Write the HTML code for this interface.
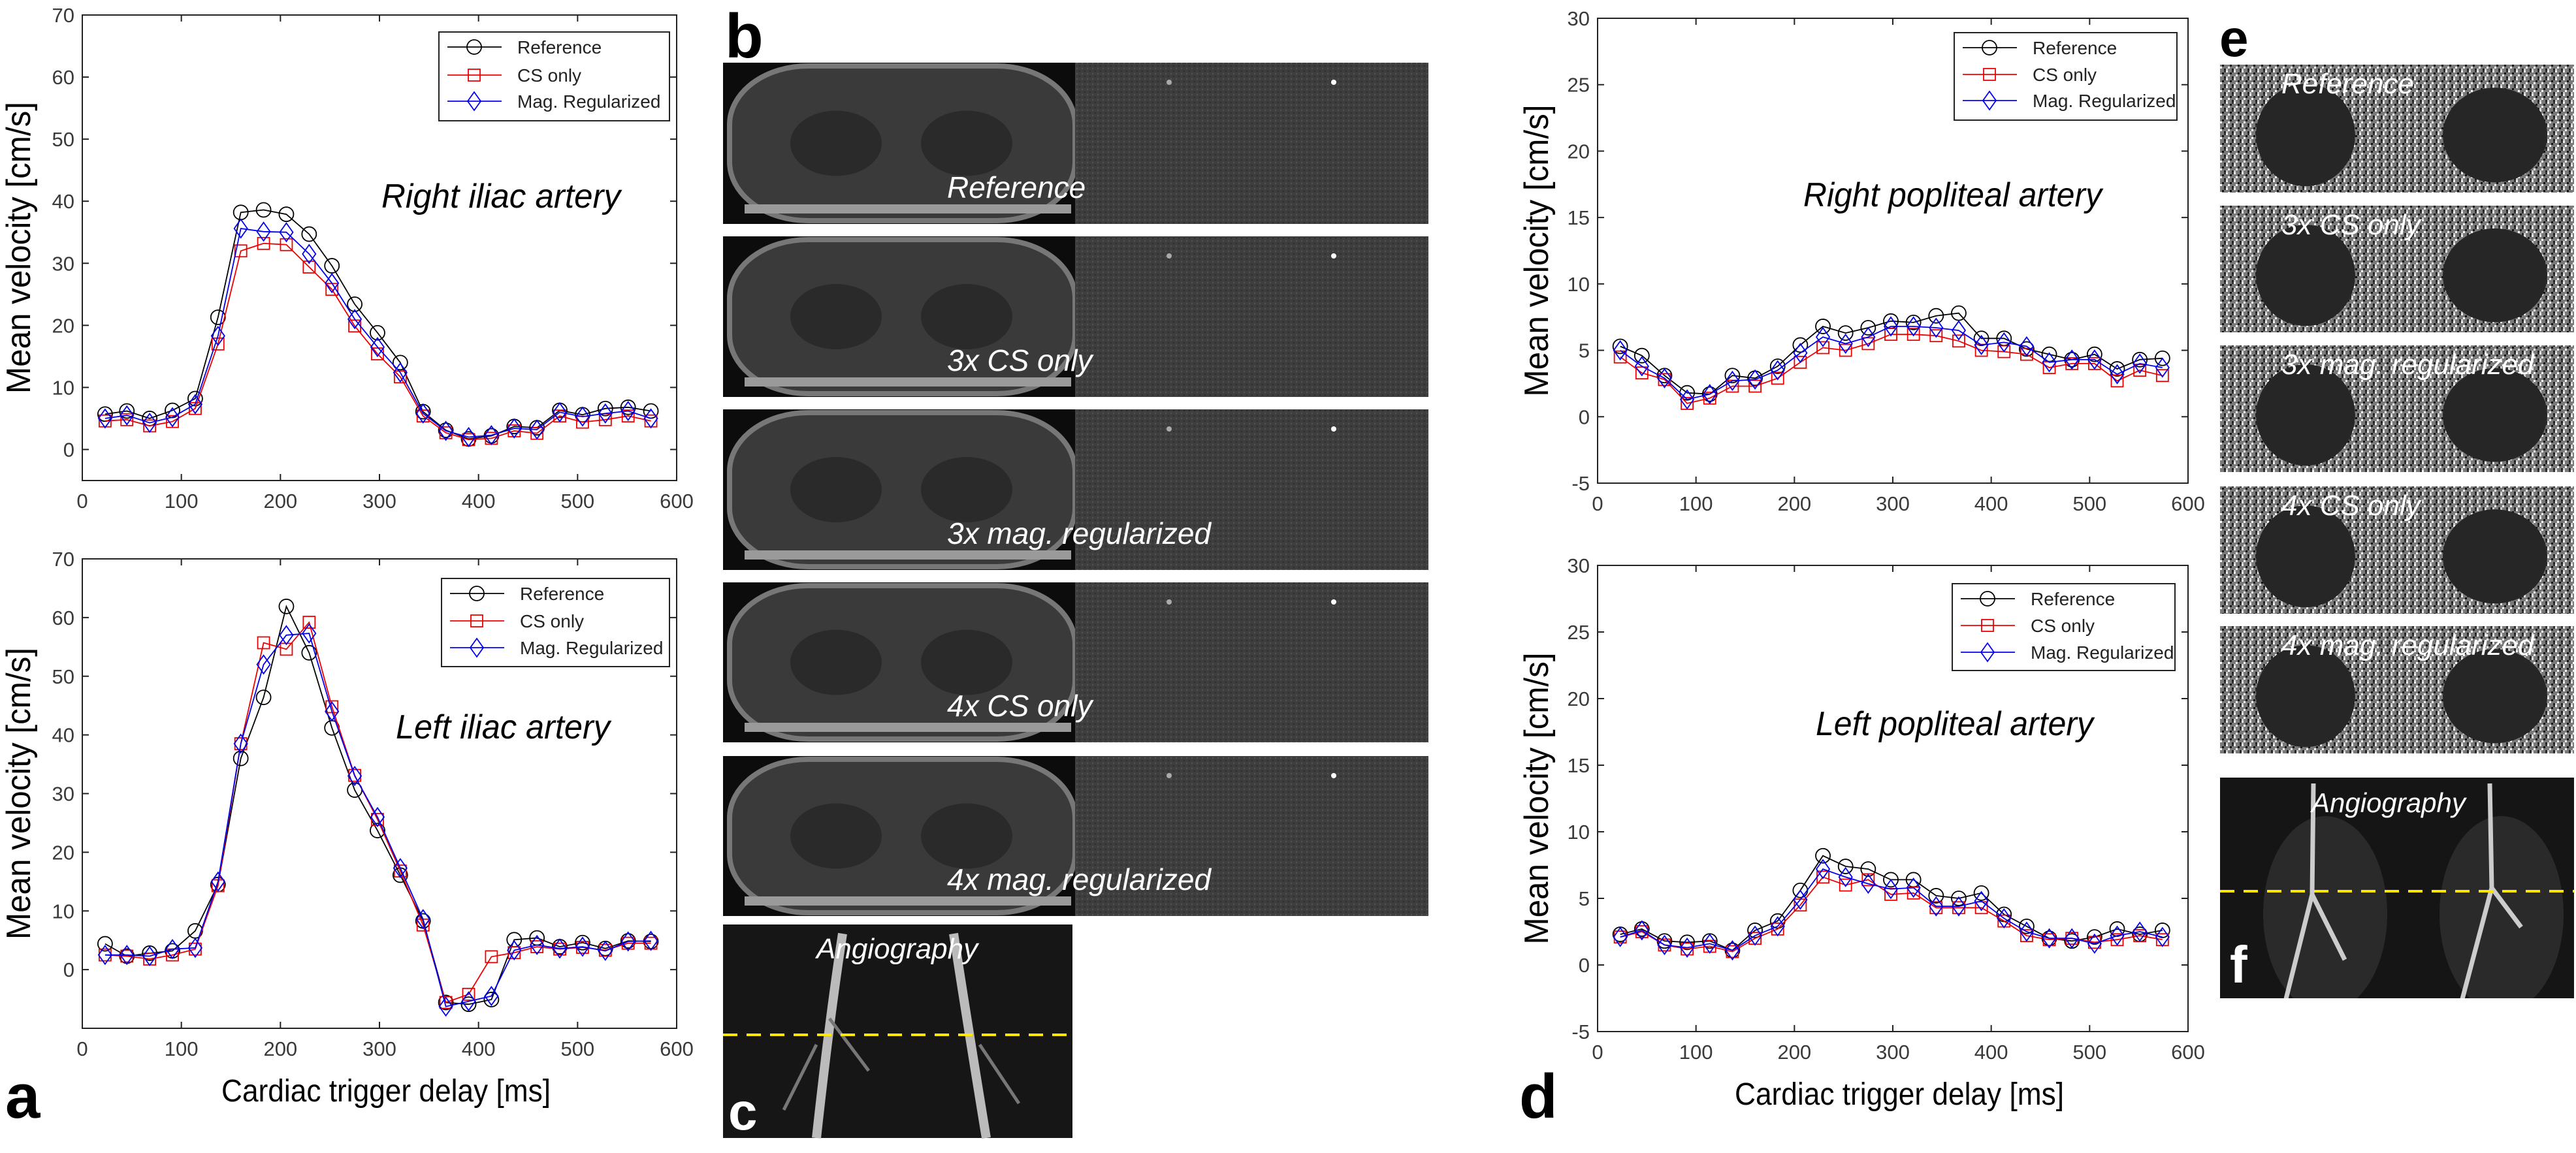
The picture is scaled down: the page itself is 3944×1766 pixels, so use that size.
<!DOCTYPE html>
<html><head><meta charset="utf-8"><style>
html,body{margin:0;padding:0;background:#fff;}
svg{display:block;font-family:"Liberation Sans",sans-serif;}
</style></head><body>
<svg id="fig" width="3944" height="1766" viewBox="0 0 3944 1766" xmlns="http://www.w3.org/2000/svg">
<defs>
<pattern id="noise" width="12" height="12" patternUnits="userSpaceOnUse">
<rect width="12" height="12" fill="#7a7a7a"/>
<rect x="0" y="0" width="3" height="3" fill="#f0f0f0"/><rect x="6" y="3" width="3" height="3" fill="#111"/>
<rect x="3" y="6" width="3" height="3" fill="#fff"/><rect x="9" y="9" width="3" height="3" fill="#222"/>
<rect x="9" y="0" width="3" height="3" fill="#333"/><rect x="0" y="9" width="3" height="3" fill="#ccc"/>
</pattern>
<pattern id="fine" width="8" height="8" patternUnits="userSpaceOnUse">
<rect width="8" height="8" fill="#3e3e3e"/><rect x="0" y="0" width="2" height="2" fill="#555"/><rect x="4" y="4" width="2" height="2" fill="#2e2e2e"/>
</pattern>
<clipPath id="fclip"><rect x="3399" y="1191" width="542" height="338"/></clipPath>
</defs>
<g id="charts"></g>
<g id="images"></g>
</svg>
<script>
const times = [23,45,68,91,114,137,160,183,206,229,252,275,298,321,344,367,390,413,436,459,482,505,528,551,574];
const seriesNames = ["Reference","CS only","Mag. Regularized"];
const xTicks = [0,100,200,300,400,500,600];
const yTicksIliac = [0,10,20,30,40,50,60,70];
const yTicksPop = [-5,0,5,10,15,20,25,30];
const rightIliacRef = [5.7,6.2,5.0,6.3,8.2,21.3,38.2,38.6,37.9,34.7,29.6,23.4,18.8,14.0,6.1,3.1,1.7,2.2,3.7,3.5,6.3,5.6,6.6,6.8,6.2];
const rightIliacCS = [4.6,4.8,3.8,4.5,6.6,17.0,32.0,33.2,33.0,29.4,25.8,19.9,15.4,11.7,5.4,2.7,1.6,1.8,3.0,2.6,5.4,4.4,4.8,5.4,4.6];
const rightIliacMag = [5.0,5.5,4.3,5.2,7.3,18.3,35.6,35.1,35.0,31.5,26.8,21.0,16.5,12.4,5.8,3.0,2.0,2.3,3.4,3.2,6.0,5.3,5.8,6.2,5.0];
const leftIliacRef = [4.4,2.3,2.8,3.2,6.6,14.5,36.0,46.4,61.9,54.0,41.2,30.6,23.7,16.1,8.3,-5.6,-5.9,-5.1,5.1,5.4,3.9,4.6,3.6,4.9,4.8];
const leftIliacCS = [2.5,2.3,1.8,2.5,3.5,14.3,38.5,55.7,54.6,59.2,44.8,33.1,25.6,16.8,7.6,-5.6,-4.2,2.2,2.9,3.9,3.5,3.8,3.3,4.5,4.5];
const leftIliacMag = [2.5,2.5,2.3,3.5,3.7,15.0,38.5,52.0,57.0,57.3,44.0,33.0,26.0,17.3,8.6,-6.3,-5.4,-4.5,3.3,4.2,3.6,3.9,3.2,4.8,4.9];
const rightPopRef = [5.3,4.6,3.1,1.8,1.7,3.1,2.9,3.8,5.4,6.8,6.3,6.7,7.2,7.1,7.6,7.8,5.9,5.9,5.1,4.7,4.3,4.7,3.6,4.3,4.4];
const rightPopCS = [4.5,3.3,2.8,1.0,1.4,2.3,2.3,2.9,4.1,5.2,5.0,5.5,6.2,6.2,6.1,5.7,5.0,4.9,4.7,3.7,4.0,4.0,2.7,3.5,3.1];
const rightPopMag = [5.0,3.8,2.9,1.3,1.7,2.7,2.8,3.5,4.8,6.0,5.5,6.0,6.8,6.8,6.7,6.5,5.4,5.6,5.3,4.1,4.3,4.3,3.2,4.0,3.7];
const leftPopRef = [2.3,2.7,1.8,1.7,1.8,1.1,2.6,3.3,5.6,8.2,7.4,7.2,6.4,6.4,5.2,5.0,5.4,3.8,2.9,2.0,1.8,2.1,2.7,2.3,2.6];
const leftPopCS = [2.1,2.5,1.5,1.2,1.4,1.0,2.0,2.7,4.5,6.6,6.0,6.4,5.3,5.4,4.3,4.3,4.3,3.3,2.2,1.9,2.0,1.7,1.9,2.2,1.9];
const leftPopMag = [2.1,2.6,1.5,1.3,1.6,1.1,2.2,2.9,4.9,7.2,6.6,6.1,5.7,5.8,4.4,4.4,4.8,3.5,2.5,2.0,2.0,1.6,2.2,2.5,2.1];

const NS="http://www.w3.org/2000/svg";
function mk(tag, attrs, parent){const e=document.createElementNS(NS,tag);for(const k in attrs)e.setAttribute(k,attrs[k]);if(parent)parent.appendChild(e);return e;}
const colors=["#000","#e00","#00e"];

function drawChart(cfg){
  const root=document.getElementById('charts');
  const g=mk('g',{},root);
  
  
  const X=v=>cfg.l+(v-0)/(600-0)*(cfg.r-cfg.l);
  const Y=v=>cfg.b-(v-cfg.ymin)/(cfg.ymax-cfg.ymin)*(cfg.b-cfg.t);
  const frame=mk('rect',{x:cfg.l,y:cfg.t,width:cfg.r-cfg.l,height:cfg.b-cfg.t,fill:'none',stroke:'#222','stroke-width':2},g);
  
  
  xTicks.forEach(v=>{
    const x=X(v);
    mk('line',{x1:x,x2:x,y1:cfg.b,y2:cfg.b-10,stroke:'#222','stroke-width':2},g);
    mk('line',{x1:x,x2:x,y1:cfg.t,y2:cfg.t+10,stroke:'#222','stroke-width':2},g);
    const t=mk('text',{x:x,y:cfg.b+42,'text-anchor':'middle','font-size':31,fill:'#3a3a3a'},g);
    t.textContent=v;
    
    
  });
  cfg.yt.forEach(v=>{
    const y=Y(v);
    mk('line',{x1:cfg.l,x2:cfg.l+10,y1:y,y2:y,stroke:'#222','stroke-width':2},g);
    mk('line',{x1:cfg.r,x2:cfg.r-10,y1:y,y2:y,stroke:'#222','stroke-width':2},g);
    const t=mk('text',{x:cfg.l-12,y:y+11,'text-anchor':'end','font-size':31,fill:'#3a3a3a'},g);
    t.textContent=v;
    
    
  });
  const yt=mk('text',{x:0,y:0,'text-anchor':'middle','font-size':52,fill:'#000',transform:`translate(${cfg.ytx},${(cfg.t+cfg.b)/2}) rotate(-90)`,textLength:447,lengthAdjust:'spacingAndGlyphs'},g);
  yt.textContent='Mean velocity [cm/s]';
  
  
  if(cfg.xlabel){
    const xl=mk('text',{x:(cfg.l+cfg.r)/2+10,y:cfg.b+112,'text-anchor':'middle','font-size':48,fill:'#000',textLength:504,lengthAdjust:'spacingAndGlyphs'},g);
    xl.textContent='Cardiac trigger delay [ms]';
    
    
  }
  const an=mk('text',{x:cfg.ax,y:cfg.ay,'font-size':52,'font-style':'italic',fill:'#000',textLength:cfg.aw,lengthAdjust:'spacingAndGlyphs'},g);
  an.textContent=cfg.title;
  
  
  cfg.series.forEach((vals,si)=>{
    const sg=mk('g',{},g);
    
    
    const pts=vals.map((v,i)=>X(times[i]).toFixed(1)+','+Y(v).toFixed(1)).join(' ');
    const pl=mk('polyline',{points:pts,fill:'none',stroke:colors[si],'stroke-width':1.8},sg);
    
    
    vals.forEach((v,i)=>{const m=marker(sg,si,X(times[i]),Y(v));
      
      });
  });
  const lg=mk('g',{},g);
  
  
  mk('rect',{x:cfg.lg[0],y:cfg.lg[1],width:cfg.lg[2]-cfg.lg[0],height:cfg.lg[3]-cfg.lg[1],fill:'#fff',stroke:'#222','stroke-width':2},lg);
  seriesNames.forEach((n,si)=>{
    const ry=cfg.lg[4][si];const lx=cfg.lg[0]+13;
    mk('line',{x1:lx,x2:lx+83,y1:ry,y2:ry,stroke:colors[si],'stroke-width':1.8},lg);
    marker(lg,si,lx+41,ry);
    const t=mk('text',{x:lx+107,y:ry+10,'font-size':28,fill:'#222'},lg);
    t.textContent=n;
    
    
  });
}
function marker(p,si,x,y){
  if(si===0)return mk('circle',{cx:x,cy:y,r:11,fill:'none',stroke:'#000','stroke-width':1.8},p);
  if(si===1)return mk('rect',{x:x-9,y:y-9,width:18,height:18,fill:'none',stroke:'#e00','stroke-width':1.8},p);
  return mk('polygon',{points:`${x},${y-14} ${x+10},${y} ${x},${y+14} ${x-10},${y}`,fill:'none',stroke:'#00e','stroke-width':1.8},p);
}
drawChart({name:'right-iliac-chart',l:126,r:1036,t:23,b:736,ymin:-5,ymax:70,yt:yTicksIliac,ytx:46,xlabel:false,title:'Right iliac artery',ax:584,ay:318,aw:366,
  series:[rightIliacRef,rightIliacCS,rightIliacMag],lg:[672,49,1025,185,[72,115,155]]});
drawChart({name:'left-iliac-chart',l:126,r:1036,t:856,b:1575,ymin:-10,ymax:70,yt:yTicksIliac,ytx:46,xlabel:true,title:'Left iliac artery',ax:606,ay:1131,aw:328,
  series:[leftIliacRef,leftIliacCS,leftIliacMag],lg:[676,886,1025,1021,[909,951,992]]});
drawChart({name:'right-popliteal-chart',l:2446,r:3350,t:28,b:740,ymin:-5,ymax:30,yt:yTicksPop,ytx:2370,xlabel:false,title:'Right popliteal artery',ax:2761,ay:316,aw:457,
  series:[rightPopRef,rightPopCS,rightPopMag],lg:[2992,50,3333,184,[73,114,154]]});
drawChart({name:'left-popliteal-chart',l:2446,r:3350,t:866,b:1580,ymin:-5,ymax:30,yt:yTicksPop,ytx:2370,xlabel:true,title:'Left popliteal artery',ax:2780,ay:1126,aw:425,
  series:[leftPopRef,leftPopCS,leftPopMag],lg:[2989,894,3330,1027,[917,958,999]]});

const im=document.getElementById('images');
function label(txt,x,y,size,color,name,extra){const t=mk('text',Object.assign({x:x,y:y,'font-size':size,fill:color},extra||{}),im);t.textContent=txt;
  
  return t;}
label('a',8,1712,96,'#000','panel-label-a',{'font-weight':'bold'});
label('d',2326,1712,96,'#000','panel-label-d',{'font-weight':'bold'});
label('b',1110,88,96,'#000','panel-label-b',{'font-weight':'bold'});
label('e',3398,86,80,'#000','panel-label-e',{'font-weight':'bold'});
const bPanels=[[96,343,'Reference'],[362,608,'3x CS only'],[627,873,'3x mag. regularized'],[892,1137,'4x CS only'],[1158,1403,'4x mag. regularized']];
bPanels.forEach(p=>{
  const g=mk('g',{},im);
  
  
  const h=p[1]-p[0];
  mk('rect',{x:1107,y:p[0],width:539,height:h,fill:'#0c0c0c'},g);
  mk('rect',{x:1117,y:p[0]+5,width:529,height:h-10,rx:120,ry:90,fill:'#3a3a3a',stroke:'#777','stroke-width':8},g);
  mk('ellipse',{cx:1280,cy:p[0]+h*0.5,rx:70,ry:50,fill:'#2a2a2a'},g);
  mk('ellipse',{cx:1480,cy:p[0]+h*0.5,rx:70,ry:50,fill:'#2a2a2a'},g);
  mk('rect',{x:1140,y:p[1]-30,width:500,height:14,fill:'#9a9a9a'},g);
  mk('rect',{x:1646,y:p[0],width:541,height:h,fill:'url(#fine)'},g);
  mk('circle',{cx:1790,cy:p[0]+30,r:4,fill:'#aaa'},g);
  mk('circle',{cx:2042,cy:p[0]+30,r:4,fill:'#fff'},g);
  const t=mk('text',{x:1450,y:p[1]-40,'font-size':46,'font-style':'italic',fill:'#fff'},g);t.textContent=p[2];
  
  
});
const cg=mk('g',{},im);


mk('rect',{x:1107,y:1416,width:535,height:327,fill:'#161616'},cg);
mk('path',{d:'M1290 1430 Q1270 1560 1250 1743 M1460 1430 Q1480 1560 1510 1743',stroke:'#bbb','stroke-width':14,fill:'none'},cg);
mk('path',{d:'M1250 1600 L1200 1700 M1500 1600 L1560 1690 M1270 1560 L1330 1640',stroke:'#777','stroke-width':5,fill:'none'},cg);
mk('line',{x1:1107,x2:1642,y1:1585,y2:1585,stroke:'#ffe800','stroke-width':4,'stroke-dasharray':'22 14'},cg);
label('Angiography',1250,1468,44,'#fff','angiography-label',{'font-style':'italic'});
label('c',1115,1730,80,'#fff','panel-label-c',{'font-weight':'bold'});
const ePanels=[[99,295,'Reference'],[315,509,'3x CS only'],[529,723,'3x mag. regularized'],[745,940,'4x CS only'],[959,1154,'4x mag. regularized']];
ePanels.forEach(p=>{
  const g=mk('g',{},im);
  
  
  const h=p[1]-p[0];
  mk('rect',{x:3399,y:p[0],width:542,height:h,fill:'url(#noise)'},g);
  mk('ellipse',{cx:3530,cy:p[0]+h*0.55,rx:76,ry:h*0.4,fill:'#262626'},g);
  mk('ellipse',{cx:3820,cy:p[0]+h*0.55,rx:80,ry:h*0.37,fill:'#262626'},g);
  const t=mk('text',{x:3493,y:p[0]+44,'font-size':44,'font-style':'italic',fill:'#fff'},g);t.textContent=p[2];
  
  
});
const fg=mk('g',{'clip-path':'url(#fclip)'},im);


mk('rect',{x:3399,y:1191,width:542,height:338,fill:'#151515'},fg);
mk('ellipse',{cx:3560,cy:1400,rx:95,ry:150,fill:'#2a2a2a'},fg);
mk('ellipse',{cx:3830,cy:1400,rx:95,ry:150,fill:'#2a2a2a'},fg);
mk('path',{d:'M3542 1200 L3540 1370 L3500 1530 M3812 1200 L3815 1360 L3860 1420 M3540 1370 L3590 1470 M3815 1360 L3770 1530',stroke:'#ccc','stroke-width':7,fill:'none'},fg);
mk('line',{x1:3399,x2:3941,y1:1365,y2:1365,stroke:'#ffe800','stroke-width':4,'stroke-dasharray':'22 14'},fg);
label('Angiography',3539,1244,42,'#fff','angiography-label',{'font-style':'italic'});
label('f',3414,1505,80,'#fff','panel-label-f',{'font-weight':'bold'});
</script>
</body></html>
